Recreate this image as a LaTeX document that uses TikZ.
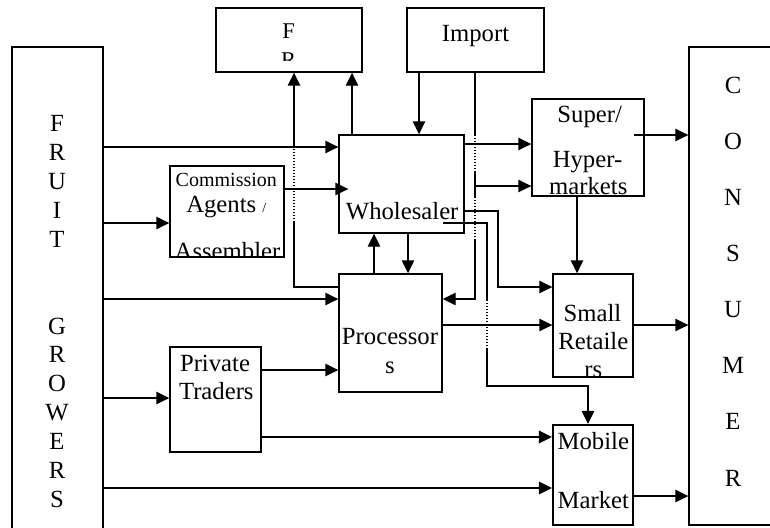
\documentclass[tikz,border=0pt]{standalone}
\usepackage{fontspec}
\setmainfont{Liberation Serif}
\usetikzlibrary{arrows.meta,calc}
\newcommand\bigsz{\fontsize{24.7pt}{28.5pt}\selectfont}
\newcommand\midsz{\fontsize{22.5pt}{28pt}\selectfont}
\newcommand\smsz{\fontsize{20pt}{24pt}\selectfont}
\newcommand\slashsz{\fontsize{14pt}{16pt}\selectfont}
\begin{document}
\begin{tikzpicture}[x=1pt,y=-1pt,
  box/.style={draw,line width=1.4pt,rectangle,inner sep=0pt},
  txt/.style={inner sep=0pt,anchor=base,font=\bigsz},
  ln/.style={line width=1.4pt},
  dotln/.style={line width=1.4pt,dash pattern=on 1.4pt off 1.6pt},
  arr/.style={line width=1.4pt,-{Triangle[length=13pt,width=12.5pt]}}]
\useasboundingbox (0,0) rectangle (770,527);
% boxes
\node[box, minimum width=91, minimum height=500] (fg) at (57.5,297) {};
\node[box, minimum width=146, minimum height=64] (fp) at (289,40) {};
\node[box, minimum width=137, minimum height=64] (imp) at (475.5,40) {};
\node[box, minimum width=125, minimum height=98] (whs) at (401.5,184) {};
\node[box, minimum width=114, minimum height=91] (com) at (227,211.5) {};
\node[box, minimum width=103, minimum height=118] (pro) at (390.5,333) {};
\node[box, minimum width=91, minimum height=105] (pvt) at (215.5,399.5) {};
\node[box, minimum width=112, minimum height=97] (hyp) at (588,147.5) {};
\node[box, minimum width=80, minimum height=103] (sml) at (593,325.5) {};
\node[box, line width=2.2pt, minimum width=80, minimum height=100] (mob) at (593,475) {};
\node[box, minimum width=120, minimum height=478] (con) at (749,286) {};
% texts
\foreach \l/\n in {F/1,R/2,U/3,I/4,T/5,G/8,R/9,O/10,W/11,E/12,R/13,S/14}
  \node[txt] (fgt\n) at (57,{131.7+28.9*(\n-1)}) {\l};
\foreach \l/\n in {C/0,O/1,N/2,S/3,U/4,M/5,E/6,R/7}
  \node[txt] (cont\n) at (733,{93.3+56.1*\n}) {\l};
\node[txt,font=\midsz] (fpF) at (288.7,38.3) {F};
\begin{scope}
  \clip (216,8) rectangle (362,60);
  \node[txt,font=\midsz] (fpR) at (288.7,67.6) {R};
\end{scope}
\node[txt] (impt) at (475.5,41.5) {Import};
\node[txt] (whst) at (402.2,219) {Wholesaler};
\node[txt,font=\smsz] (comt1) at (226.3,186.7) {Commission};
\node[txt] (comt2) at (226.3,212.7) {Agents {\slashsz /}};
\begin{scope}
  \clip (com.south west) rectangle (com.north east);
  \node[txt] (comt3) at (227.5,259) {Assembler};
\end{scope}
\node[txt] (prot1) at (390,344.5) {Processor};
\node[txt] (prot2) at (390,373) {s};
\node[txt] (pvtt1) at (215,371) {Private};
\node[txt] (pvtt2) at (216.3,399) {Traders};
\node[txt] (hypt1) at (589.7,122.7) {Super/};
\node[txt] (hypt2) at (587.5,167.7) {Hyper-};
\node[txt] (hypt3) at (588.3,194.3) {markets};
\node[txt] (smlt1) at (592.5,321) {Small};
\node[txt] (smlt2) at (593.3,349.3) {Retaile};
\begin{scope}
  \clip (sml.south west) rectangle (sml.north east);
  \node[txt] (smlt3) at (593.3,377.8) {rs};
\end{scope}
\node[txt] (mobt1) at (593.3,449.3) {Mobile};
\node[txt] (mobt2) at (593.3,508.3) {Market};
% connectors from fruit growers
\draw[arr] (fg.east |- 0,147) -- (whs.west |- 0,147);
\draw[arr] (fg.east |- 0,223) -- (com.west |- 0,223);
\draw[arr] (fg.east |- 0,299) -- (pro.west |- 0,299);
\draw[arr] (fg.east |- 0,398) -- (pvt.west |- 0,398);
\draw[arr] (fg.east |- 0,488) -- (mob.west |- 0,488);
% private traders
\draw[arr] (pvt.east |- 0,370) -- (pro.west |- 0,370);
\draw[arr] (pvt.east |- 0,437) -- (mob.west |- 0,437);
% commission agents
\coordinate (comin) at ($(whs.west |- 0,189)+(10,0)$);
\draw[arr] (com.east |- 0,189) -- (comin);
% processors -> FP
\draw[ln] (pro.west |- 0,287) -| (294,222);
\draw[dotln] (294,222) -- (294,147);
\draw[arr] (294,147) -- (fp.south -| 294,0);
% wholesaler -> FP, import -> wholesaler
\draw[arr] (whs.north -| 352,0) -- (fp.south -| 352,0);
\draw[arr] (imp.south -| 419,0) -- (whs.north -| 419,0);
% import -> processors and hypermarkets
\draw[ln] (imp.south -| 475,0) -- (475,135);
\draw[dotln] (475,135) -- (475,172);
\draw[ln] (475,172) -- (475,197);
\draw[dotln] (475,197) -- (475,240);
\draw[arr] (475,240) |- (pro.east |- 0,299);
\draw[arr] (475,186) -- (hyp.west |- 0,186);
% wholesaler -> hypermarkets, small retailers, mobile market
\draw[arr] (whs.east |- 0,144) -- (hyp.west |- 0,144);
\draw[arr] (whs.east |- 0,211) -| (498,287) -- (sml.west |- 0,287);
\draw[ln] ($(whs.east |- 0,223)+(-22,0)$) -| (487,300);
\draw[dotln] (487,300) -- (487,348);
\draw[arr] (487,348) |- (588,386) -- (mob.north -| 588,0);
% hypermarkets
\draw[arr] ($(hyp.east |- 0,135)+(-11,0)$) -- (con.west |- 0,135);
\draw[arr] (hyp.south -| 577,0) -- (sml.north -| 577,0);
% processors
\draw[arr] (pro.east |- 0,325) -- (sml.west |- 0,325);
\draw[arr] (pro.north -| 374,0) -- (whs.south -| 374,0);
\draw[arr] (whs.south -| 408,0) -- (pro.north -| 408,0);
% to consumers
\draw[arr] (sml.east |- 0,325) -- (con.west |- 0,325);
\draw[arr] (mob.east |- 0,496) -- (con.west |- 0,496);
\end{tikzpicture}
\end{document}
